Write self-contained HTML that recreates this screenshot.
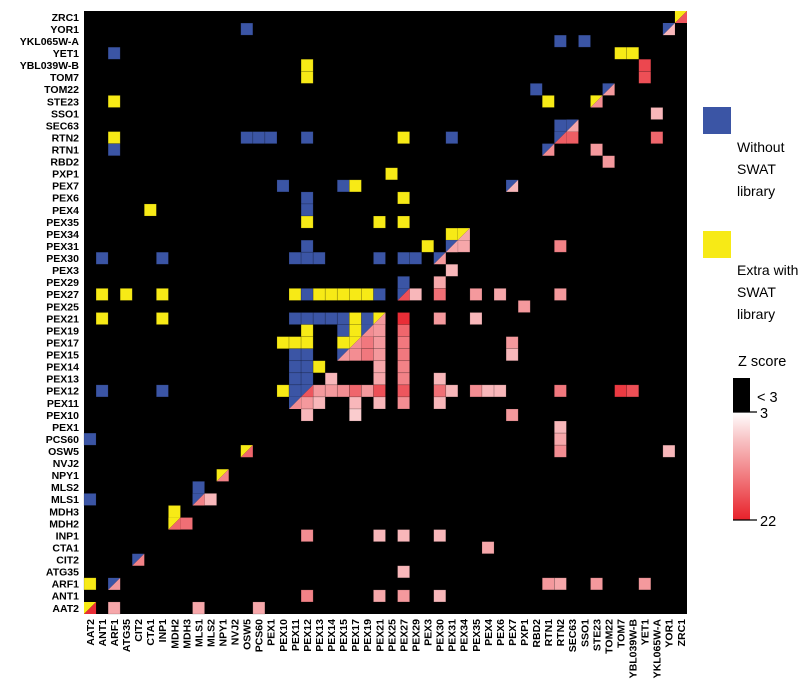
<!DOCTYPE html>
<html><head><meta charset="utf-8"><style>
body{margin:0;background:#fff;}
svg{display:block;font-family:"Liberation Sans",Arial,sans-serif;}
</style></head><body>
<svg id="chart" width="800" height="696" viewBox="0 0 800 696" xmlns="http://www.w3.org/2000/svg">
<defs>
<linearGradient id="zgrad" x1="0" y1="0" x2="0" y2="1">
<stop offset="0" stop-color="#ffffff"/><stop offset="0.25" stop-color="#f8c4c6"/><stop offset="0.6" stop-color="#f17a7e"/><stop offset="1" stop-color="#e8212a"/>
</linearGradient>
</defs>
<rect x="84" y="11" width="603" height="603" fill="#000"/>
<g id="cells"></g>
<g id="ylabels"></g>
<g id="xlabels"></g>
<g>
<rect x="703" y="107" width="28" height="27" fill="#3b55a5"/>
<text font-size="14" fill="#000"><tspan x="737" y="152">Without</tspan><tspan x="737" y="174">SWAT</tspan><tspan x="737" y="196">library</tspan></text>
<rect x="703" y="231" width="28" height="27" fill="#f7ea16"/>
<text font-size="14" fill="#000"><tspan x="737" y="275">Extra with</tspan><tspan x="737" y="297">SWAT</tspan><tspan x="737" y="319">library</tspan></text>
<text x="738" y="366" font-size="14.5">Z score</text>
<rect x="733" y="378" width="17" height="34" fill="#000"/>
<rect x="733" y="412" width="17" height="108" fill="url(#zgrad)"/>
<line x1="733" y1="412" x2="757" y2="412" stroke="#000" stroke-width="1.2"/>
<line x1="733" y1="520" x2="757" y2="520" stroke="#000" stroke-width="1.2"/>
<text x="757" y="402" font-size="14.5">&lt; 3</text>
<text x="760" y="418" font-size="14.5">3</text>
<text x="760" y="526" font-size="14.5">22</text>
</g>
</svg>
<script>
const labels = ["AAT2","ANT1","ARF1","ATG35","CIT2","CTA1","INP1","MDH2","MDH3","MLS1","MLS2","NPY1","NVJ2","OSW5","PCS60","PEX1","PEX10","PEX11","PEX12","PEX13","PEX14","PEX15","PEX17","PEX19","PEX21","PEX25","PEX27","PEX29","PEX3","PEX30","PEX31","PEX34","PEX35","PEX4","PEX6","PEX7","PXP1","RBD2","RTN1","RTN2","SEC63","SSO1","STE23","TOM22","TOM7","YBL039W-B","YET1","YKL065W-A","YOR1","ZRC1"];
// category cells: [column label, row label, "B"=without SWAT, "Y"=extra with SWAT]
const categoryCells = [
["OSW5","YOR1","B"],["RTN2","YKL065W-A","B"],["SSO1","YKL065W-A","B"],
["ARF1","YET1","B"],["TOM7","YET1","Y"],["YBL039W-B","YET1","Y"],
["PEX12","YBL039W-B","Y"],["PEX12","TOM7","Y"],["RBD2","TOM22","B"],
["ARF1","STE23","Y"],["RTN1","STE23","Y"],["RTN2","SEC63","B"],
["ARF1","RTN2","Y"],["OSW5","RTN2","B"],["PCS60","RTN2","B"],["PEX1","RTN2","B"],["PEX12","RTN2","B"],["PEX27","RTN2","Y"],["PEX31","RTN2","B"],
["ARF1","RTN1","B"],["PEX25","PXP1","Y"],
["PEX10","PEX7","B"],["PEX15","PEX7","B"],["PEX17","PEX7","Y"],
["PEX12","PEX6","B"],["PEX27","PEX6","Y"],
["CTA1","PEX4","Y"],["PEX12","PEX4","B"],
["PEX12","PEX35","Y"],["PEX21","PEX35","Y"],["PEX27","PEX35","Y"],
["PEX31","PEX34","Y"],["PEX12","PEX31","B"],["PEX3","PEX31","Y"],
["ANT1","PEX30","B"],["INP1","PEX30","B"],["PEX11","PEX30","B"],["PEX12","PEX30","B"],["PEX13","PEX30","B"],["PEX21","PEX30","B"],["PEX27","PEX30","B"],["PEX29","PEX30","B"],
["PEX27","PEX29","B"],
["ANT1","PEX27","Y"],["ATG35","PEX27","Y"],["INP1","PEX27","Y"],["PEX11","PEX27","Y"],["PEX12","PEX27","B"],["PEX13","PEX27","Y"],["PEX14","PEX27","Y"],["PEX15","PEX27","Y"],["PEX17","PEX27","Y"],["PEX19","PEX27","Y"],["PEX21","PEX27","B"],
["ANT1","PEX21","Y"],["INP1","PEX21","Y"],["PEX11","PEX21","B"],["PEX12","PEX21","B"],["PEX13","PEX21","B"],["PEX14","PEX21","B"],["PEX15","PEX21","B"],["PEX17","PEX21","Y"],["PEX19","PEX21","B"],
["PEX12","PEX19","Y"],["PEX15","PEX19","B"],["PEX17","PEX19","Y"],
["PEX10","PEX17","Y"],["PEX11","PEX17","Y"],["PEX12","PEX17","Y"],["PEX15","PEX17","Y"],
["PEX11","PEX15","B"],["PEX12","PEX15","B"],
["PEX11","PEX14","B"],["PEX12","PEX14","B"],["PEX13","PEX14","Y"],
["PEX11","PEX13","B"],["PEX12","PEX13","B"],
["ANT1","PEX12","B"],["INP1","PEX12","B"],["PEX10","PEX12","Y"],["PEX11","PEX12","B"],
["AAT2","PCS60","B"],["AAT2","MLS1","B"],["AAT2","ARF1","Y"],
["MDH2","MDH3","Y"],["MLS1","MLS2","B"]
];
// Z-score cells: [column label, row label, z]
const zCells = [
["YKL065W-A","SSO1",5],["YKL065W-A","RTN2",12],["YET1","YBL039W-B",16],["YET1","TOM7",15],
["SEC63","RTN2",13],["STE23","RTN1",7],["TOM22","RBD2",7],
["PEX34","PEX31",6],["RTN2","PEX31",9],["PEX31","PEX3",5],["PEX30","PEX29",6],
["PEX29","PEX27",5],["PEX30","PEX27",11],["PEX35","PEX27",7],["PEX6","PEX27",6],["RTN2","PEX27",7],
["PXP1","PEX25",7],
["PEX27","PEX21",20],["PEX30","PEX21",7],["PEX35","PEX21",5],
["PEX21","PEX19",7],["PEX27","PEX19",12],
["PEX19","PEX17",10],["PEX21","PEX17",7],["PEX27","PEX17",10],["PEX7","PEX17",7],
["PEX17","PEX15",8],["PEX19","PEX15",10],["PEX21","PEX15",7],["PEX27","PEX15",10],["PEX7","PEX15",5],
["PEX21","PEX14",6],["PEX27","PEX14",9],
["PEX14","PEX13",5],["PEX21","PEX13",6],["PEX27","PEX13",9],["PEX30","PEX13",5],
["PEX13","PEX12",7],["PEX14","PEX12",7],["PEX15","PEX12",8],["PEX17","PEX12",12],["PEX19","PEX12",7],["PEX21","PEX12",15],["PEX27","PEX12",14],["PEX30","PEX12",11],["PEX31","PEX12",5],["PEX35","PEX12",8],["PEX4","PEX12",5],["PEX6","PEX12",5],["RTN2","PEX12",10],["TOM7","PEX12",18],["YBL039W-B","PEX12",15],
["PEX12","PEX11",7],["PEX13","PEX11",5],["PEX17","PEX11",5],["PEX21","PEX11",5],["PEX27","PEX11",8],["PEX30","PEX11",5],
["PEX12","PEX10",5],["PEX17","PEX10",4],["PEX7","PEX10",7],
["RTN2","PEX1",5],["RTN2","PCS60",6],["RTN2","OSW5",8],["YOR1","OSW5",5],
["MLS2","MLS1",5],["MDH3","MDH2",11],
["PEX4","CTA1",6],
["PEX12","INP1",8],["PEX21","INP1",5],["PEX27","INP1",5],["PEX30","INP1",5],
["PEX27","ATG35",5],
["RTN1","ARF1",7],["RTN2","ARF1",6],["STE23","ARF1",7],["YET1","ARF1",7],
["PEX12","ANT1",9],["PEX21","ANT1",6],["PEX27","ANT1",7],["PEX30","ANT1",5],
["ARF1","AAT2",6],["MLS1","AAT2",6],["PCS60","AAT2",6]
];
// diagonal cells: [label, upper-left category, z]
const diagCells = [
["AAT2","Y",20],["ARF1","B",7],["CIT2","B",9],["MDH2","Y",12],["MLS1","B",9],["NPY1","Y",9],["OSW5","Y",12],
["PEX11","B",8],["PEX12","B",14],["PEX15","B",7],["PEX17","Y",8],["PEX19","B",8],["PEX21","Y",7],["PEX27","B",15],
["PEX30","B",7],["PEX31","B",6],["PEX34","Y",6],["PEX7","B",5],["RTN1","B",8],["RTN2","B",13],["SEC63","B",6],
["STE23","Y",8],["TOM22","B",7],["YOR1","B",5],["ZRC1","Y",14]
];
const zMin = 3, zMax = 22;
const NS = "http://www.w3.org/2000/svg";
const X0 = 84, Y0 = 11, W = 603, N = labels.length, CS = W / N;
function xPos(lab){ return X0 + labels.indexOf(lab) * CS; }
function yPos(lab){ return Y0 + (N - 1 - labels.indexOf(lab)) * CS; }
const catColor = {B:"#3b55a5", Y:"#f7ea16"};
function zColor(z){
  let t = Math.max(0, Math.min(1, (z - zMin) / (zMax - zMin)));
  t = Math.sqrt(t);
  const r = Math.round(255 + (232 - 255) * t);
  const g = Math.round(255 + (33 - 255) * t);
  const b = Math.round(255 + (42 - 255) * t);
  return "rgb(" + r + "," + g + "," + b + ")";
}
const cellG = document.getElementById("cells");
function addRect(x, y, fill, name){
  const r = document.createElementNS(NS, "rect");
  r.setAttribute("x", x.toFixed(2)); r.setAttribute("y", y.toFixed(2));
  r.setAttribute("width", CS.toFixed(2)); r.setAttribute("height", CS.toFixed(2));
  r.setAttribute("fill", fill); r.setAttribute("stroke", "rgba(0,0,0,0.25)"); r.setAttribute("stroke-width", "0.6");
  
  
  cellG.appendChild(r);
}
categoryCells.forEach(function(c){
  addRect(xPos(c[0]), yPos(c[1]), catColor[c[2]], "cell-" + c[0].toLowerCase() + "-" + c[1].toLowerCase());
});
zCells.forEach(function(c){
  addRect(xPos(c[0]), yPos(c[1]), zColor(c[2]), "cell-" + c[0].toLowerCase() + "-" + c[1].toLowerCase());
});
diagCells.forEach(function(d){
  const x = xPos(d[0]), y = yPos(d[0]);
  const g = document.createElementNS(NS, "g");
  
  
  const p1 = document.createElementNS(NS, "polygon");
  p1.setAttribute("points", x + "," + y + " " + (x + CS) + "," + y + " " + x + "," + (y + CS));
  p1.setAttribute("fill", catColor[d[1]]);
  
  
  const p2 = document.createElementNS(NS, "polygon");
  p2.setAttribute("points", (x + CS) + "," + y + " " + (x + CS) + "," + (y + CS) + " " + x + "," + (y + CS));
  p2.setAttribute("fill", zColor(d[2]));
  
  
  g.appendChild(p1); g.appendChild(p2);
  cellG.appendChild(g);
});
const yl = document.getElementById("ylabels"), xl = document.getElementById("xlabels");
labels.forEach(function(lab, i){
  const t = document.createElementNS(NS, "text");
  t.setAttribute("x", "79");
  t.setAttribute("y", (Y0 + (N - 1 - i + 0.5) * CS + 3.8).toFixed(2));
  t.setAttribute("text-anchor", "end"); t.setAttribute("font-size", "10.5"); t.setAttribute("font-weight", "bold");
  t.textContent = lab;
  
  
  yl.appendChild(t);
  const u = document.createElementNS(NS, "text");
  const cx = X0 + (i + 0.5) * CS + 3.8;
  u.setAttribute("transform", "translate(" + cx.toFixed(2) + ",619) rotate(-90)");
  u.setAttribute("text-anchor", "end"); u.setAttribute("font-size", "10.5"); u.setAttribute("font-weight", "bold");
  u.textContent = lab;
  
  
  xl.appendChild(u);
});
</script>
</body></html>
